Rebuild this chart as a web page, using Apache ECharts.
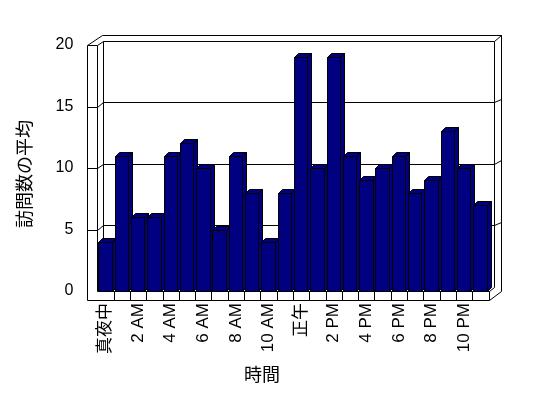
<!DOCTYPE html>
<html>
<head>
<meta charset="utf-8">
<script src="https://cdn.jsdelivr.net/npm/echarts@6/dist/echarts.min.js"></script>
<style>
html, body { margin: 0; padding: 0; background: #fff; }
#chart { width: 548px; height: 398px; }
</style>
</head>
<body>
<div id="chart"></div>
<script>
// 時間帯ごとの訪問数の平均
const hours = ['真夜中', '1 AM', '2 AM', '3 AM', '4 AM', '5 AM', '6 AM', '7 AM', '8 AM', '9 AM', '10 AM', '11 AM',
  '正午', '1 PM', '2 PM', '3 PM', '4 PM', '5 PM', '6 PM', '7 PM', '8 PM', '9 PM', '10 PM', '11 PM'];
const visits = [4, 11, 6, 6, 11, 12, 10, 5, 11, 8, 4, 8, 19, 10, 19, 11, 9, 10, 11, 8, 9, 13, 10, 7];
const yTicks = [0, 5, 10, 15, 20];

const FONT = "'Liberation Sans', 'Noto Sans CJK JP', sans-serif";
const BAR_DEPTH = [4, -4];   // 棒の奥行き
const WALL_DEPTH = [5.4, -4.5]; // 壁の奥行き
const px = v => Math.round(v) + 0.5; // 1px線をくっきり

const line = (pts) => ({
  type: 'polyline',
  shape: { points: pts.map(p => [px(p[0]), px(p[1])]) },
  style: { stroke: '#000', lineWidth: 1, fill: null },
});

// 3D風の枠（壁・床・目盛線）
function renderFrame (params, api) {
  const w = api.size([1, 0])[0];
  const xl = api.coord([0, 0])[0] - w / 2;
  const xr = api.coord([hours.length - 1, 0])[0] + w / 2;
  const y0 = api.coord([0, 0])[1];
  const yMax = yTicks[yTicks.length - 1];
  const yTop = api.coord([0, yMax])[1];
  const [wx, wy] = WALL_DEPTH;
  const side = 10.6; // 左の壁の厚み
  const floor = 9;   // 床の厚み
  const outerR = xr + wx + 7.5;
  const outerT = yTop + wy - 6;
  const kids = [];

  // 背面の目盛線
  yTicks.forEach(t => {
    if (t === 0 || t === yMax) return;
    const y = api.coord([0, t])[1];
    kids.push(line([[xl - side, y], [xl, y], [xl + wx, y + wy], [xr + wx, y + wy], [outerR, y + wy - 3.5]]));
  });
  // 上端
  kids.push(line([[xl - side, yTop], [xl, yTop], [xl + wx, yTop + wy], [xr + wx, yTop + wy], [outerR, outerT]]));
  kids.push(line([[xl - side, yTop], [xl - side + 15, outerT], [outerR, outerT], [outerR, y0]]));
  // 左の壁
  kids.push(line([[xl - side, yTop], [xl - side, y0 + floor], [xr, y0 + floor]]));
  kids.push(line([[xl, yTop], [xl, y0], [xr, y0], [xr, y0 + floor], [outerR, y0]]));
  kids.push(line([[xl + wx, yTop + wy], [xl + wx, y0 + wy]]));
  kids.push(line([[xr + wx, yTop + wy], [xr + wx, y0 + wy]]));
  kids.push(line([[xr, y0], [xr + wx, y0 + wy]]));
  // 床の区切り
  for (let k = 1; k < hours.length; k++) {
    kids.push(line([[xl + k * w, y0], [xl + k * w, y0 + floor]]));
  }
  return { type: 'group', children: kids };
}

// 3D風の棒
function renderBar (params, api) {
  const i = api.value(0);
  const v = api.value(1);
  const base = api.coord([i, 0]);
  const top = api.coord([i, v]);
  const w = api.size([1, 0])[0];
  const x0 = px(base[0] - w / 2 + 1);
  const x1 = px(base[0] - w / 2 + 14.4);
  const yb = px(base[1]);
  const yt = px(top[1]);
  const [dx, dy] = BAR_DEPTH;
  const style = { fill: '#000080', stroke: '#000', lineWidth: 1 };
  return {
    type: 'group',
    children: [
      { type: 'polygon', shape: { points: [[x0, yt], [x1, yt], [x1, yb], [x0, yb]] }, style },
      { type: 'polygon', shape: { points: [[x0, yt], [x0 + dx, yt + dy], [x1 + dx, yt + dy], [x1, yt]] }, style },
      { type: 'polygon', shape: { points: [[x1, yt], [x1 + dx, yt + dy], [x1 + dx, yb + dy], [x1, yb]] }, style },
    ],
  };
}

const chart = echarts.init(document.getElementById('chart'));
chart.setOption({
  animation: false,
  backgroundColor: '#fff',
  grid: { left: 97.3, right: 59.5, top: 45, bottom: 107 },
  xAxis: {
    type: 'category',
    data: hours,
    boundaryGap: true,
    axisLine: { show: false },
    axisTick: { show: false },
    axisLabel: {
      interval: 1,
      rotate: 90,
      margin: 12,
      color: '#000',
      fontSize: 17,
      fontFamily: FONT,
      padding: [0, 0, 11, 0],
    },
    name: '時間',
    nameLocation: 'middle',
    nameGap: 76,
    nameTextStyle: { color: '#000', fontSize: 18, fontFamily: FONT, padding: [0, 62, 0, 0] },
  },
  yAxis: {
    type: 'value',
    min: 0,
    max: 20,
    interval: 5,
    axisLine: { show: false },
    axisTick: { show: false },
    splitLine: { show: false },
    axisLabel: { margin: 24, color: '#000', fontSize: 16, fontFamily: FONT },
    name: '訪問数の平均',
    nameLocation: 'middle',
    nameRotate: 90,
    nameGap: 62,
    nameTextStyle: { color: '#000', fontSize: 18, fontFamily: FONT, padding: [0, 12, 0, 0] },
  },
  series: [
    {
      type: 'custom',
      z: 1,
      silent: true,
      renderItem: renderFrame,
      data: [[0, 0]],
    },
    {
      type: 'custom',
      z: 2,
      renderItem: renderBar,
      data: visits.map((v, i) => [i, v]),
    },
  ],
});
</script>
</body>
</html>
